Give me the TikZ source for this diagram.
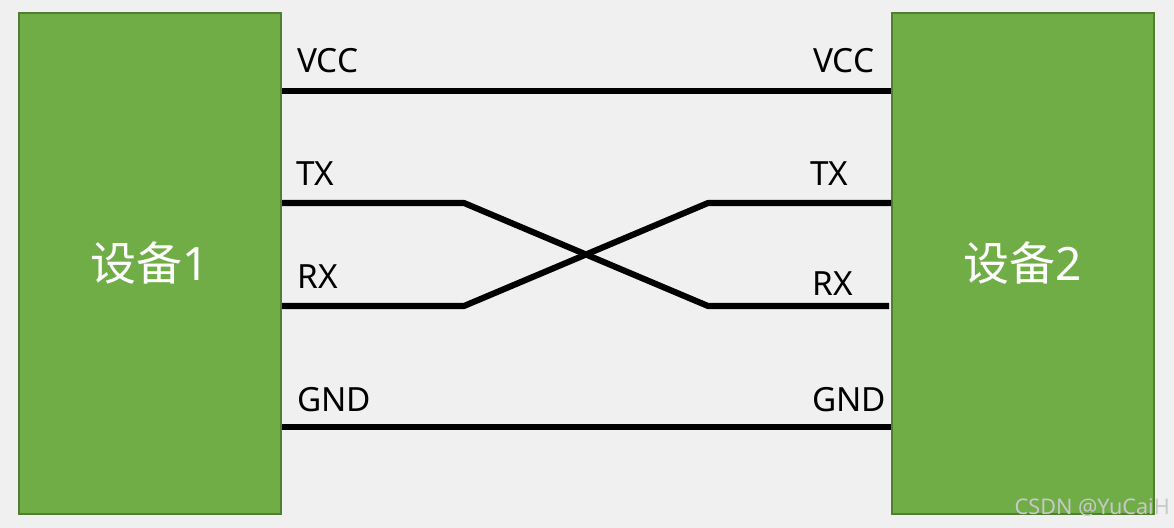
\documentclass[tikz,border=0pt]{standalone}
\usepackage{fontspec}
\setmainfont{Noto Sans}
\newfontfamily\cjk{Noto Sans CJK SC}
\newlength{\pxu}\setlength{\pxu}{0.75pt}
\tikzset{
 box/.style={draw=boxedge,fill=boxfill,line width=1.5pt,minimum width=262\pxu,minimum height=501\pxu,inner sep=0pt,text=white,font=\fontsize{34.5}{36}\selectfont},
 wire/.style={line width=4.6pt,black,line join=round},
 sig/.style={inner sep=0pt,font=\fontsize{25}{28}\selectfont,text=black,anchor=base west},
}
\definecolor{bg}{HTML}{F0F0F0}
\definecolor{boxfill}{HTML}{70AD47}
\definecolor{boxedge}{HTML}{507E32}
\definecolor{wmark}{HTML}{C8C8C8}
\begin{document}
\begin{tikzpicture}[x=0.75pt,y=-0.75pt]
\useasboundingbox (0,0) rectangle (1174,528);
\fill[bg] (0,0) rectangle (1174,528);
\node[box] (d1) at (150,263.5) {\raisebox{-2\pxu}{{\cjk 设备}1}};
\node[box] (d2) at (1023,263.5) {\raisebox{-2\pxu}{{\cjk 设备}2}};
\coordinate (l1) at (d1.east |- 0,91);
\coordinate (r1) at (d2.west |- 0,91);
\coordinate (l2) at (d1.east |- 0,203);
\coordinate (l2b) at (464,203);
\coordinate (r3b) at (708,306);
\coordinate (r3) at (889,306);
\coordinate (l3) at (d1.east |- 0,306);
\coordinate (l3b) at (464,306);
\coordinate (r2b) at (708,203);
\coordinate (r2) at (d2.west |- 0,203);
\coordinate (l4) at (d1.east |- 0,427);
\coordinate (r4) at (d2.west |- 0,427);
\draw[wire] (l1) -- (r1);
\draw[wire] (l2) -- (l2b) -- (r3b) -- (r3);
\draw[wire] (l3) -- (l3b) -- (r2b) -- (r2);
\draw[wire] (l4) -- (r4);
\node[sig] (a1) at (297,73) {VCC};
\node[sig] (a2) at (296,185) {TX};
\node[sig] (a3) at (297,288) {RX};
\node[sig] (a4) at (297,411) {GND};
\node[sig] (b1) at (813,73) {VCC};
\node[sig] (b2) at (810,185) {TX};
\node[sig] (b3) at (812,295) {RX};
\node[sig] (b4) at (812,411) {GND};
\node[inner sep=0pt,anchor=base east,text=wmark,font=\fontsize{16.2}{18}\selectfont] (wm) at (1170,514) {CSDN @YuCaiH};
\end{tikzpicture}
\end{document}
